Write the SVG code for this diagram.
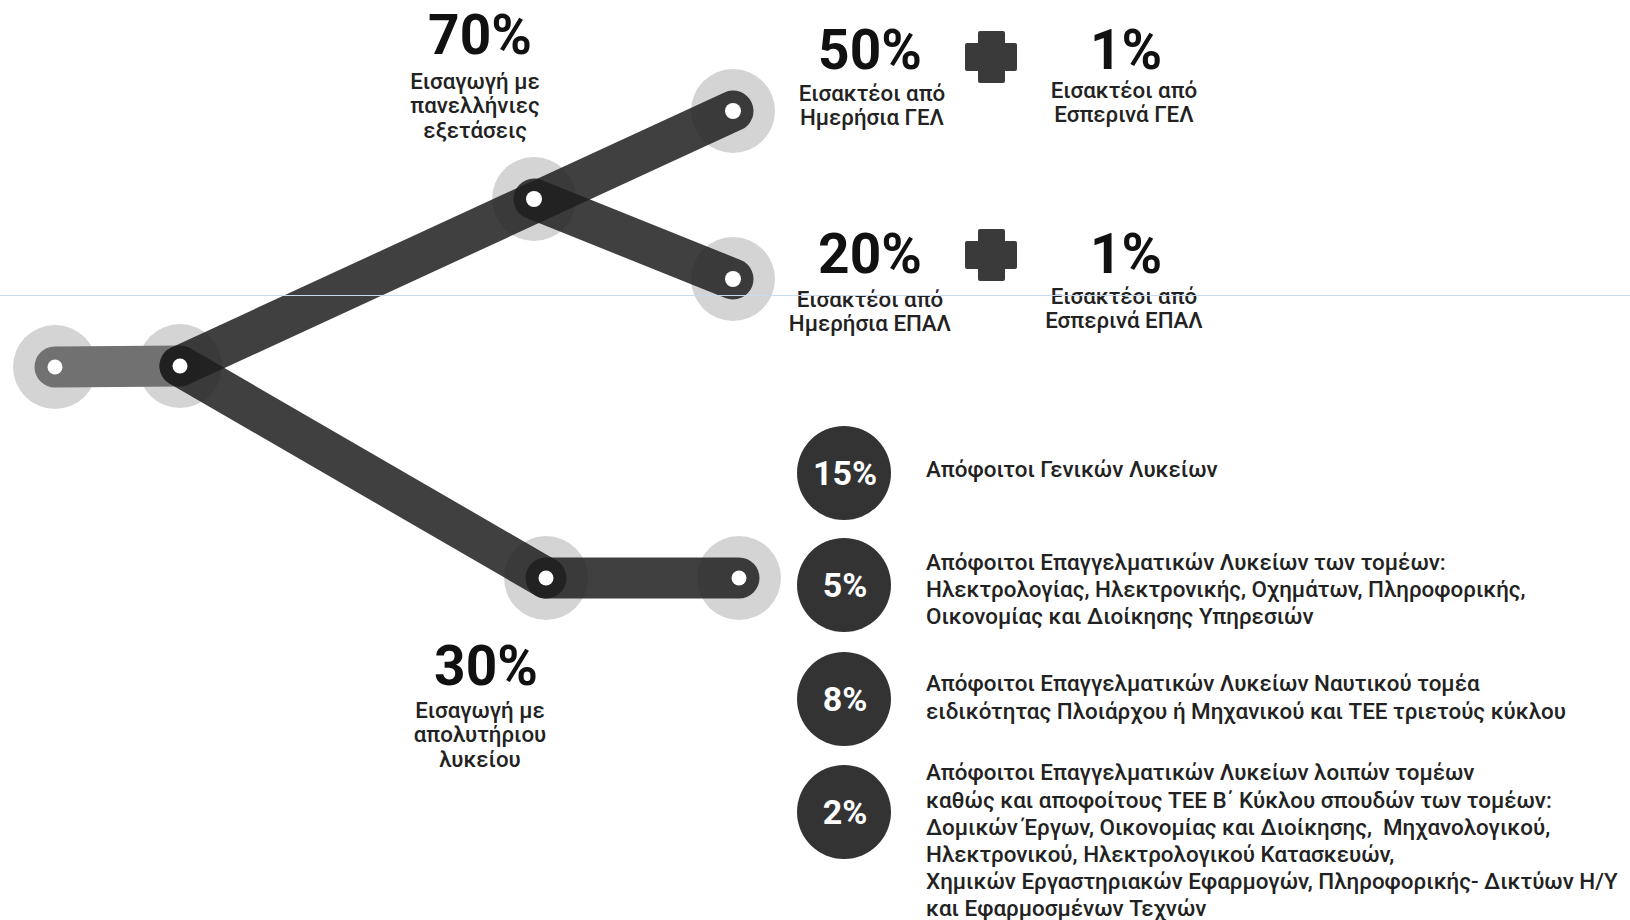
<svg xmlns="http://www.w3.org/2000/svg" width="1630" height="920" viewBox="0 0 1630 920">
<style>
.halo{fill:#d4d4d4}
.bar{fill:none;stroke:#1e1e1e;stroke-opacity:0.85;stroke-width:41;stroke-linecap:round}
.barl{fill:none;stroke:#717171;stroke-width:41;stroke-linecap:round}
.dot{fill:#ffffff}
.big{font-family:Roboto,"Liberation Sans",sans-serif;font-weight:700;fill:#111111;text-anchor:middle}
.lab{font-family:Roboto,"Liberation Sans",sans-serif;font-weight:500;font-size:22.3px;fill:#222222;text-anchor:middle}
.pct{font-family:Roboto,"Liberation Sans",sans-serif;font-weight:700;font-size:34px;fill:#ffffff;text-anchor:middle}
.desc{font-family:Roboto,"Liberation Sans",sans-serif;font-weight:500;font-size:22.4px;fill:#222222}
.circ{fill:#333333}
.plus{fill:#3a3a3a}
</style>
<g id="halos">
<circle class="halo" cx="55" cy="367" r="42"/>
<circle class="halo" cx="180" cy="366" r="42"/>
<circle class="halo" cx="534" cy="199" r="42"/>
<circle class="halo" cx="733" cy="111" r="42"/>
<circle class="halo" cx="733" cy="279" r="42"/>
<circle class="halo" cx="546" cy="578" r="42"/>
<circle class="halo" cx="739" cy="578" r="42"/>
</g>
<g id="connectors">
<line class="barl" x1="55" y1="367" x2="180" y2="366"/>
<line class="bar" x1="180" y1="366" x2="733" y2="111"/>
<line class="bar" x1="534" y1="199" x2="733" y2="279"/>
<line class="bar" x1="180" y1="366" x2="546" y2="578"/>
<line class="bar" x1="546" y1="578" x2="739" y2="578"/>
</g>
<g id="node-start"><circle class="dot" cx="55" cy="367" r="7.5"/></g>
<g id="node-split"><circle class="dot" cx="180" cy="366" r="7.5"/></g>
<g id="node-exams"><circle class="dot" cx="534" cy="199" r="8"/>
<text class="big" x="480" y="54" font-size="55">70%</text>
<text class="lab" x="475" y="89">Εισαγωγή με</text>
<text class="lab" x="475" y="113">πανελλήνιες</text>
<text class="lab" x="475" y="138">εξετάσεις</text>
</g>
<g id="node-gel"><circle class="dot" cx="733" cy="111" r="8"/>
<text class="big" x="870" y="69" font-size="55">50%</text>
<text class="lab" x="872" y="101">Εισακτέοι από</text>
<text class="lab" x="872" y="125">Ημερήσια ΓΕΛ</text>
<g class="plus"><rect x="978" y="31" width="27" height="52" rx="2"/><rect x="965" y="43" width="52" height="28" rx="2"/></g>
<text class="big" x="1126" y="69" font-size="55">1%</text>
<text class="lab" x="1124" y="98">Εισακτέοι από</text>
<text class="lab" x="1124" y="122">Εσπερινά ΓΕΛ</text>
</g>
<g id="node-epal"><circle class="dot" cx="733" cy="279" r="8"/>
<text class="big" x="870" y="273" font-size="55">20%</text>
<text class="lab" x="870" y="307">Εισακτέοι από</text>
<text class="lab" x="870" y="331">Ημερήσια ΕΠΑΛ</text>
<g class="plus"><rect x="978" y="229" width="27" height="52" rx="2"/><rect x="965" y="241" width="52" height="28" rx="2"/></g>
<text class="big" x="1126" y="273" font-size="55">1%</text>
<text class="lab" x="1124" y="304">Εισακτέοι από</text>
<text class="lab" x="1124" y="328">Εσπερινά ΕΠΑΛ</text>
</g>
<g id="node-diploma"><circle class="dot" cx="546" cy="578" r="7.5"/>
<text class="big" x="486" y="685" font-size="55">30%</text>
<text class="lab" x="480" y="718">Εισαγωγή με</text>
<text class="lab" x="480" y="742">απολυτήριου</text>
<text class="lab" x="480" y="767">λυκείου</text>
</g>
<g id="node-end"><circle class="dot" cx="739" cy="578" r="7.5"/></g>
<g id="item-15">
<circle class="circ" cx="844" cy="473" r="47"/>
<text class="pct" x="845" y="485">15%</text>
<text class="desc" x="926" y="477">Απόφοιτοι Γενικών Λυκείων</text>
</g>
<g id="item-5">
<circle class="circ" cx="844" cy="585" r="47"/>
<text class="pct" x="845" y="597">5%</text>
<text class="desc" x="926" y="570">Απόφοιτοι Επαγγελματικών Λυκείων των τομέων:</text>
<text class="desc" x="926" y="597">Ηλεκτρολογίας, Ηλεκτρονικής, Οχημάτων, Πληροφορικής,</text>
<text class="desc" x="926" y="624">Οικονομίας και Διοίκησης Υπηρεσιών</text>
</g>
<g id="item-8">
<circle class="circ" cx="844" cy="699" r="47"/>
<text class="pct" x="845" y="711">8%</text>
<text class="desc" x="926" y="691">Απόφοιτοι Επαγγελματικών Λυκείων Ναυτικού τομέα</text>
<text class="desc" x="926" y="719">ειδικότητας Πλοιάρχου ή Μηχανικού και ΤΕΕ τριετούς κύκλου</text>
</g>
<g id="item-2">
<circle class="circ" cx="844" cy="812" r="47"/>
<text class="pct" x="845" y="824">2%</text>
<text class="desc" x="926" y="780">Απόφοιτοι Επαγγελματικών Λυκείων λοιπών τομέων</text>
<text class="desc" x="926" y="808">καθώς και αποφοίτους ΤΕΕ Β΄ Κύκλου σπουδών των τομέων:</text>
<text class="desc" x="926" y="835" xml:space="preserve">Δομικών Έργων, Οικονομίας και Διοίκησης,  Μηχανολογικού,</text>
<text class="desc" x="926" y="862">Ηλεκτρονικού, Ηλεκτρολογικού Κατασκευών,</text>
<text class="desc" x="926" y="889">Χημικών Εργαστηριακών Εφαρμογών, Πληροφορικής- Δικτύων Η/Υ</text>
<text class="desc" x="926" y="916">και Εφαρμοσμένων Τεχνών</text>
</g>
<line x1="0" y1="295.5" x2="1630" y2="295.5" stroke="#c9d9ee" stroke-width="1"/>
</svg>
